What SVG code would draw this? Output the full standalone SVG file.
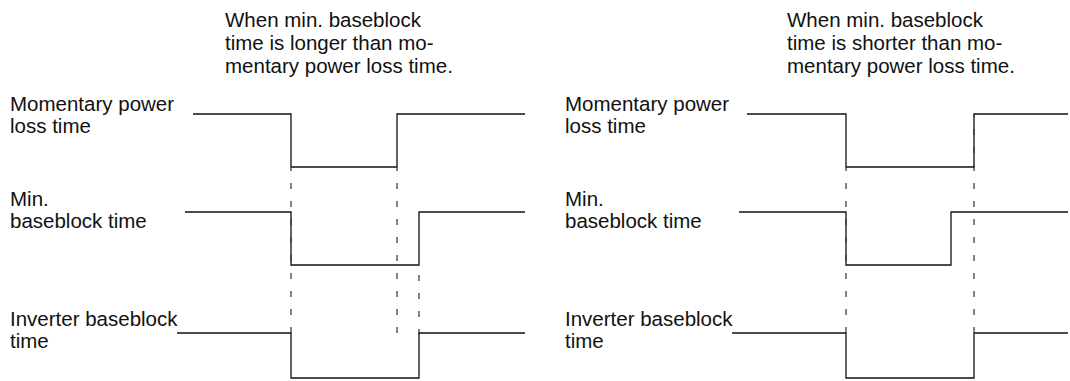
<svg xmlns="http://www.w3.org/2000/svg" width="1070" height="381" viewBox="0 0 1070 381">
<style>
text{font-family:"Liberation Sans",Arial,sans-serif;font-size:20.5px;fill:#111}
.w{fill:none;stroke:#111;stroke-width:1.3}
.d{fill:none;stroke:#333;stroke-width:1.2;stroke-dasharray:6 12}
</style>
<rect width="1070" height="381" fill="#fff"/>
<g id="title-left"><text x="225" y="27">When min. baseblock</text><text x="225" y="50">time is longer than mo-</text><text x="225" y="73">mentary power loss time.</text></g>
<g id="title-right"><text x="787" y="27">When min. baseblock</text><text x="787" y="50">time is shorter than mo-</text><text x="787" y="73">mentary power loss time.</text></g>
<g id="label-left-power"><text x="10" y="111">Momentary power</text><text x="10" y="133">loss time</text></g>
<g id="label-left-minbb"><text x="10" y="206">Min.</text><text x="10" y="228">baseblock time</text></g>
<g id="label-left-inv"><text x="10" y="326">Inverter baseblock</text><text x="10" y="348">time</text></g>
<g id="label-right-power"><text x="565" y="111">Momentary power</text><text x="565" y="133">loss time</text></g>
<g id="label-right-minbb"><text x="565" y="206">Min.</text><text x="565" y="228">baseblock time</text></g>
<g id="label-right-inv"><text x="565" y="326">Inverter baseblock</text><text x="565" y="348">time</text></g>
<g id="wave-left-power"><polyline class="w" points="193,114 291,114 291,167 397,167 397,114 525,114"/></g>
<g id="wave-left-minbb"><polyline class="w" points="185,212 291,212 291,265 419,265 419,212 525,212"/></g>
<g id="wave-left-inv"><polyline class="w" points="177,333 291,333 291,378 419,378 419,333 525,333"/></g>
<g id="wave-right-power"><polyline class="w" points="747,114 846,114 846,167 974,167 974,114 1068,114"/></g>
<g id="wave-right-minbb"><polyline class="w" points="739,212 846,212 846,265 951,265 951,212 1068,212"/></g>
<g id="wave-right-inv"><polyline class="w" points="732,333 846,333 846,378 974,378 974,333 1068,333"/></g>
<g id="connectors">
<line class="d" x1="291" y1="333" x2="291" y2="167"/>
<line class="d" x1="397" y1="333" x2="397" y2="167"/>
<line class="d" x1="419" y1="335" x2="419" y2="265"/>
<line class="d" x1="846" y1="333" x2="846" y2="167"/>
<line class="d" x1="974" y1="333" x2="974" y2="114"/>
</g>
</svg>
